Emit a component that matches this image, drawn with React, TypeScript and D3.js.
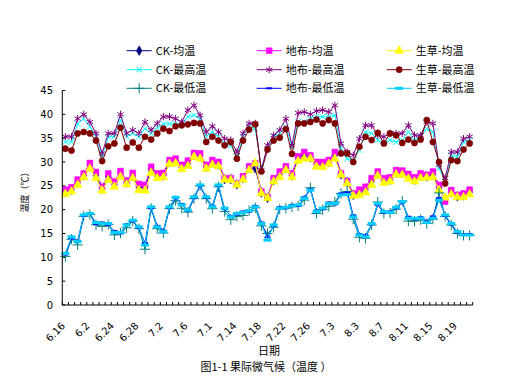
import React from 'react';
import * as d3 from 'd3';

const dates = [
  '6.16', '6.17', '6.18', '6.19', '6.2', '6.21', '6.22', '6.23', '6.24', '6.25', '6.26', '6.27', '6.28', '6.29', '6.3',
  '7.1', '7.2', '7.3', '7.4', '7.5', '7.6', '7.7', '7.8', '7.9', '7.1', '7.11', '7.12', '7.13', '7.14', '7.15', '7.16',
  '7.17', '7.18', '7.19', '7.2', '7.21', '7.22', '7.23', '7.24', '7.25', '7.26', '7.27', '7.28', '7.29', '7.3', '7.31',
  '8.1', '8.2', '8.3', '8.4', '8.5', '8.6', '8.7', '8.8', '8.9', '8.1', '8.11', '8.12', '8.13', '8.14', '8.15', '8.16',
  '8.17', '8.18', '8.19', '8.2', '8.21',
];

const yTicks = [0, 5, 10, 15, 20, 25, 30, 35, 40, 45];

const ckMean = [
  23.7, 24.2, 25.7, 27.2, 29.2, 27.2, 24.4, 26.9, 25.3, 27.5, 25.7, 27.1, 24.7, 24.6, 28.3, 27.1, 27.2, 30.0, 30.2, 28.9, 29.7, 31.5, 31.2,
  29.0, 29.9, 29.5, 26.4, 26.4, 25.3, 26.6, 28.7, 28.7, 23.6, 22.5, 26.2, 27.4, 28.7, 27.2, 30.7, 31.4, 31.0, 29.5, 29.4, 30.0, 31.4, 27.4,
  25.8, 23.1, 23.6, 24.2, 25.9, 27.5, 26.1, 26.3, 27.8, 27.7, 27.0, 26.3, 27.1, 27.0, 27.4, 24.6, 22.1, 23.6, 22.8, 23.0, 23.7,
];
const mulchMean = [
  24.2, 24.7, 26.3, 27.6, 29.8, 27.9, 24.8, 27.6, 25.9, 28.1, 26.1, 27.7, 25.4, 25.2, 29.0, 27.6, 27.7, 30.4, 30.7, 29.4, 30.3, 31.9, 31.8,
  29.4, 30.4, 30.0, 26.6, 26.6, 25.5, 27.0, 29.1, 29.7, 23.8, 22.7, 26.6, 28.0, 29.1, 27.6, 31.2, 32.1, 31.4, 30.0, 30.0, 30.4, 32.1, 27.6,
  26.0, 23.4, 24.2, 24.8, 26.6, 28.0, 26.6, 26.8, 28.3, 28.2, 27.5, 26.8, 27.6, 27.3, 28.0, 25.2, 21.7, 24.1, 23.1, 23.4, 24.2,
];
const grassMean = [
  23.3, 23.8, 25.2, 26.8, 28.6, 26.6, 24.0, 26.2, 24.8, 26.9, 25.3, 26.6, 24.1, 24.0, 27.7, 26.6, 26.8, 29.6, 29.7, 28.5, 29.1, 31.1, 30.7,
  28.6, 29.4, 29.1, 26.3, 26.2, 25.2, 26.3, 28.3, 29.7, 23.4, 22.4, 25.9, 26.8, 28.3, 26.8, 30.2, 30.7, 30.7, 29.0, 28.9, 29.6, 30.7, 27.3,
  25.5, 22.9, 23.1, 23.6, 25.2, 27.1, 25.6, 25.9, 27.4, 27.3, 26.5, 25.9, 26.6, 26.7, 26.8, 24.1, 22.5, 23.2, 22.6, 22.6, 23.2,
];
const ckMax = [
  34.2, 34.2, 38.0, 39.1, 37.4, 35.3, 31.1, 35.3, 35.3, 38.8, 35.3, 36.0, 35.3, 37.0, 36.0, 37.2, 38.0, 38.0, 38.0, 37.7, 39.5, 39.8, 39.1,
  35.3, 36.3, 35.3, 33.9, 33.5, 31.1, 35.3, 37.4, 37.0, 28.7, 32.8, 35.3, 36.0, 37.4, 33.2, 38.4, 38.4, 39.1, 39.5, 39.5, 39.5, 39.8, 32.8,
  30.7, 30.4, 32.5, 36.3, 36.0, 34.6, 33.9, 34.6, 34.2, 34.6, 36.3, 34.6, 35.3, 37.0, 36.3, 28.7, 25.9, 31.4, 31.1, 34.2, 34.6,
];
const mulchMax = [
  35.3, 35.3, 39.1, 40.0, 38.4, 36.0, 31.8, 36.0, 36.0, 40.0, 36.0, 36.7, 36.0, 38.4, 36.7, 38.1, 39.5, 39.5, 39.1, 38.4, 40.9, 41.9, 39.8,
  36.3, 37.5, 36.3, 34.9, 34.6, 32.1, 36.0, 38.1, 38.1, 28.3, 33.5, 35.6, 36.7, 39.1, 33.5, 40.3, 40.5, 40.0, 40.7, 40.9, 40.5, 41.9, 33.9,
  32.1, 31.4, 34.9, 37.7, 37.7, 35.6, 35.3, 36.0, 36.0, 36.0, 37.7, 35.6, 35.6, 38.4, 38.1, 29.4, 26.6, 32.1, 32.1, 34.9, 35.3,
];
const grassMax = [
  32.8, 32.4, 36.0, 36.3, 36.0, 34.5, 30.2, 33.3, 33.9, 37.2, 33.0, 34.1, 33.0, 35.3, 34.7, 36.0, 37.0, 36.5, 37.5, 37.7, 37.9, 38.2, 38.1,
  34.2, 35.3, 34.5, 33.5, 34.2, 30.7, 34.5, 36.8, 37.9, 28.0, 32.6, 34.5, 35.1, 36.9, 31.7, 38.1, 38.1, 38.4, 38.9, 38.1, 38.8, 38.1, 31.8,
  31.8, 30.0, 33.2, 35.3, 34.6, 36.1, 33.9, 36.0, 35.6, 34.0, 34.7, 34.0, 34.7, 38.8, 34.2, 30.0, 25.5, 30.4, 30.2, 32.6, 33.9,
];
const ckMin = [
  10.2, 13.8, 12.6, 18.6, 19.0, 16.8, 16.5, 16.9, 14.7, 15.1, 16.2, 17.6, 16.0, 11.7, 20.3, 16.0, 15.1, 20.2, 21.9, 20.3, 19.5, 22.3, 25.0,
  22.3, 20.2, 24.8, 19.6, 17.9, 18.6, 18.8, 19.8, 20.4, 16.6, 15.0, 16.3, 20.1, 20.3, 20.6, 20.8, 22.0, 24.6, 19.2, 20.0, 20.7, 21.6, 23.4,
  23.8, 18.0, 14.2, 14.0, 16.8, 21.6, 19.2, 19.3, 20.1, 21.8, 17.6, 17.6, 17.9, 17.1, 18.0, 23.5, 18.6, 16.8, 15.0, 14.6, 14.6,
];
const mulchMin = [
  10.6, 14.0, 13.5, 18.7, 19.3, 17.0, 17.3, 16.8, 15.5, 15.0, 16.9, 17.6, 16.2, 13.0, 20.3, 16.6, 15.6, 20.4, 22.4, 21.2, 19.7, 22.5, 25.0,
  22.5, 20.8, 25.0, 20.1, 18.7, 19.0, 19.6, 19.6, 20.8, 17.3, 14.2, 16.6, 20.5, 20.3, 21.0, 20.8, 22.6, 24.3, 19.8, 20.1, 21.5, 21.1, 23.4,
  23.6, 18.8, 14.9, 14.6, 16.9, 21.0, 19.4, 19.6, 20.3, 21.5, 18.5, 18.0, 18.4, 17.5, 18.6, 22.4, 18.7, 16.9, 15.2, 14.9, 14.9,
];
const grassMin = [
  10.8, 14.3, 13.3, 18.9, 19.2, 17.3, 17.1, 17.1, 15.2, 15.2, 16.8, 17.8, 16.4, 12.6, 20.6, 16.4, 15.4, 20.6, 22.6, 21.0, 19.9, 22.7, 25.2,
  22.7, 20.6, 25.2, 20.3, 18.5, 19.2, 19.4, 19.8, 20.6, 17.1, 13.6, 16.8, 20.3, 20.5, 20.8, 21.0, 22.4, 24.1, 19.6, 20.3, 21.3, 21.3, 23.1,
  23.2, 18.5, 14.7, 14.3, 17.1, 21.3, 19.6, 19.4, 20.5, 21.7, 18.2, 18.2, 18.2, 17.3, 18.2, 22.0, 18.9, 17.1, 15.4, 14.7, 14.7,
];

const seriesNames = ['CK-均温', '地布-均温', '生草-均温', 'CK-最高温', '地布-最高温', '生草-最高温', 'CK-最低温', '地布-最低温', '生草-最低温'];
const seriesValues = [ckMean, mulchMean, grassMean, ckMax, mulchMax, grassMax, ckMin, mulchMin, grassMin];
const seriesColors = ['#000080', '#FF00FF', '#FFFF00', '#00FFFF', '#800080', '#800000', '#008080', '#0000FF', '#00CCFF'];
const seriesMarkers = ['diamond', 'square', 'triangle', 'times', 'asterisk', 'circle', 'plus', 'dash', 'longdash'];

const W = 512;
const H = 385;
const left = 62.3;
const right = 472.7;
const top = 90.5;
const bottom = 305;

const cjk = '"Noto Sans CJK SC", sans-serif';
const num = '"DejaVu Sans", sans-serif';

const markerPaths: Record<string, string> = {
  diamond: d3.symbol(d3.symbolDiamond, 28)() as string,
  square: d3.symbol(d3.symbolSquare, 34)() as string,
  triangle: d3.symbol(d3.symbolTriangle, 34)() as string,
  times: d3.symbol(d3.symbolTimes, 22)() as string,
  asterisk: d3.symbol(d3.symbolAsterisk, 36)() as string,
  circle: d3.symbol(d3.symbolCircle, 30)() as string,
  plus: d3.symbol(d3.symbolPlus, 36)() as string,
};

function Marker({ kind, color, x, y }: { kind: string; color: string; x: number; y: number }) {
  if (kind === 'dash') {
    return <rect x={x - 3} y={y - 1} width={6} height={2} fill={color} />;
  }
  if (kind === 'longdash') {
    return <rect x={x - 4} y={y - 1.5} width={8} height={3} fill={color} />;
  }
  const stroked = kind === 'times' || kind === 'asterisk' || kind === 'plus';
  return (
    <path
      d={markerPaths[kind]}
      transform={`translate(${x},${y})`}
      fill={stroked ? 'none' : color}
      stroke={color}
      strokeWidth={stroked ? 1 : 0.5}
    />
  );
}

export default function App() {
  const x = d3.scaleBand<number>().domain(dates.map((_, i) => i)).range([left, right]);
  const y = d3.scaleLinear().domain([0, 45]).range([bottom, top]);
  const bw = x.bandwidth();
  const cx = (i: number) => (x(i) as number) + bw / 2;
  const line = d3
    .line<number>()
    .x((_, i) => cx(i))
    .y((d) => y(d));

  const legendCols = [126.7, 256.7, 386.7];
  const legendRows = [50.7, 69.7, 88.3];

  return (
    <div style={{ position: 'absolute', left: 0, top: 0 }}>
      <svg width={W} height={H} style={{ display: 'block', background: '#fff' }}>
        <rect width={W} height={H} fill="#fff" />

        {/* series */}
        {seriesValues.map((vals, s) => (
          <g key={s}>
            <path d={line(vals) as string} fill="none" stroke={seriesColors[s]} strokeWidth={1} />
            {vals.map((v, i) => (
              <Marker key={i} kind={seriesMarkers[s]} color={seriesColors[s]} x={cx(i)} y={y(v)} />
            ))}
          </g>
        ))}

        {/* axes */}
        <line x1={left} x2={left} y1={top} y2={bottom} stroke="#000" strokeWidth={1} />
        <line x1={left} x2={right} y1={bottom} y2={bottom} stroke="#000" strokeWidth={1} />
        {yTicks.map((t) => (
          <g key={t}>
            <line x1={left} x2={left + 3} y1={y(t)} y2={y(t)} stroke="#000" />
            <text
              x={53}
              y={y(t)}
              dy="0.35em"
              textAnchor="end"
              fontFamily={num}
              fontSize={10}
              fill="#000"
            >
              {t}
            </text>
          </g>
        ))}
        {dates.map((_, i) => (
          <line key={i} x1={x(i) as number} x2={x(i) as number} y1={bottom} y2={bottom - 3} stroke="#000" />
        ))}
        <line x1={right} x2={right} y1={bottom} y2={bottom - 3} stroke="#000" />
        {dates.map((d, i) =>
          i % 4 === 0 ? (
            <text
              key={i}
              transform={`translate(${cx(i) - 2},${bottom + 19}) rotate(-45)`}
              textAnchor="end"
              dy="0.35em"
              fontFamily={num}
              fontSize={10}
              fill="#000"
            >
              {d}
            </text>
          ) : null
        )}

        {/* titles */}
        <text
          transform={`translate(25,190) rotate(-90)`}
          textAnchor="middle"
          dy="0.35em"
          fontFamily={cjk}
          fontSize={9}
          fill="#000"
        >
          温度（℃）
        </text>
        <text x={269} y={351} textAnchor="middle" dy="0.35em" fontFamily={cjk} fontSize={11} fill="#000">
          日期
        </text>
        <text x={266} y={367} textAnchor="middle" dy="0.35em" fontFamily={cjk} fontSize={11} fill="#000">
          图1-1 果际微气候（温度 ）
        </text>

        {/* legend */}
        {seriesNames.map((name, s) => {
          const lx = legendCols[s % 3];
          const ly = legendRows[Math.floor(s / 3)];
          return (
            <g key={name}>
              <line x1={lx} x2={lx + 25} y1={ly} y2={ly} stroke={seriesColors[s]} strokeWidth={1} />
              <Marker kind={seriesMarkers[s]} color={seriesColors[s]} x={lx + 12.5} y={ly} />
              <text x={lx + 29} y={ly} dy="0.35em" fontFamily={cjk} fontSize={11} fill="#000">
                {name}
              </text>
            </g>
          );
        })}
      </svg>
    </div>
  );
}
